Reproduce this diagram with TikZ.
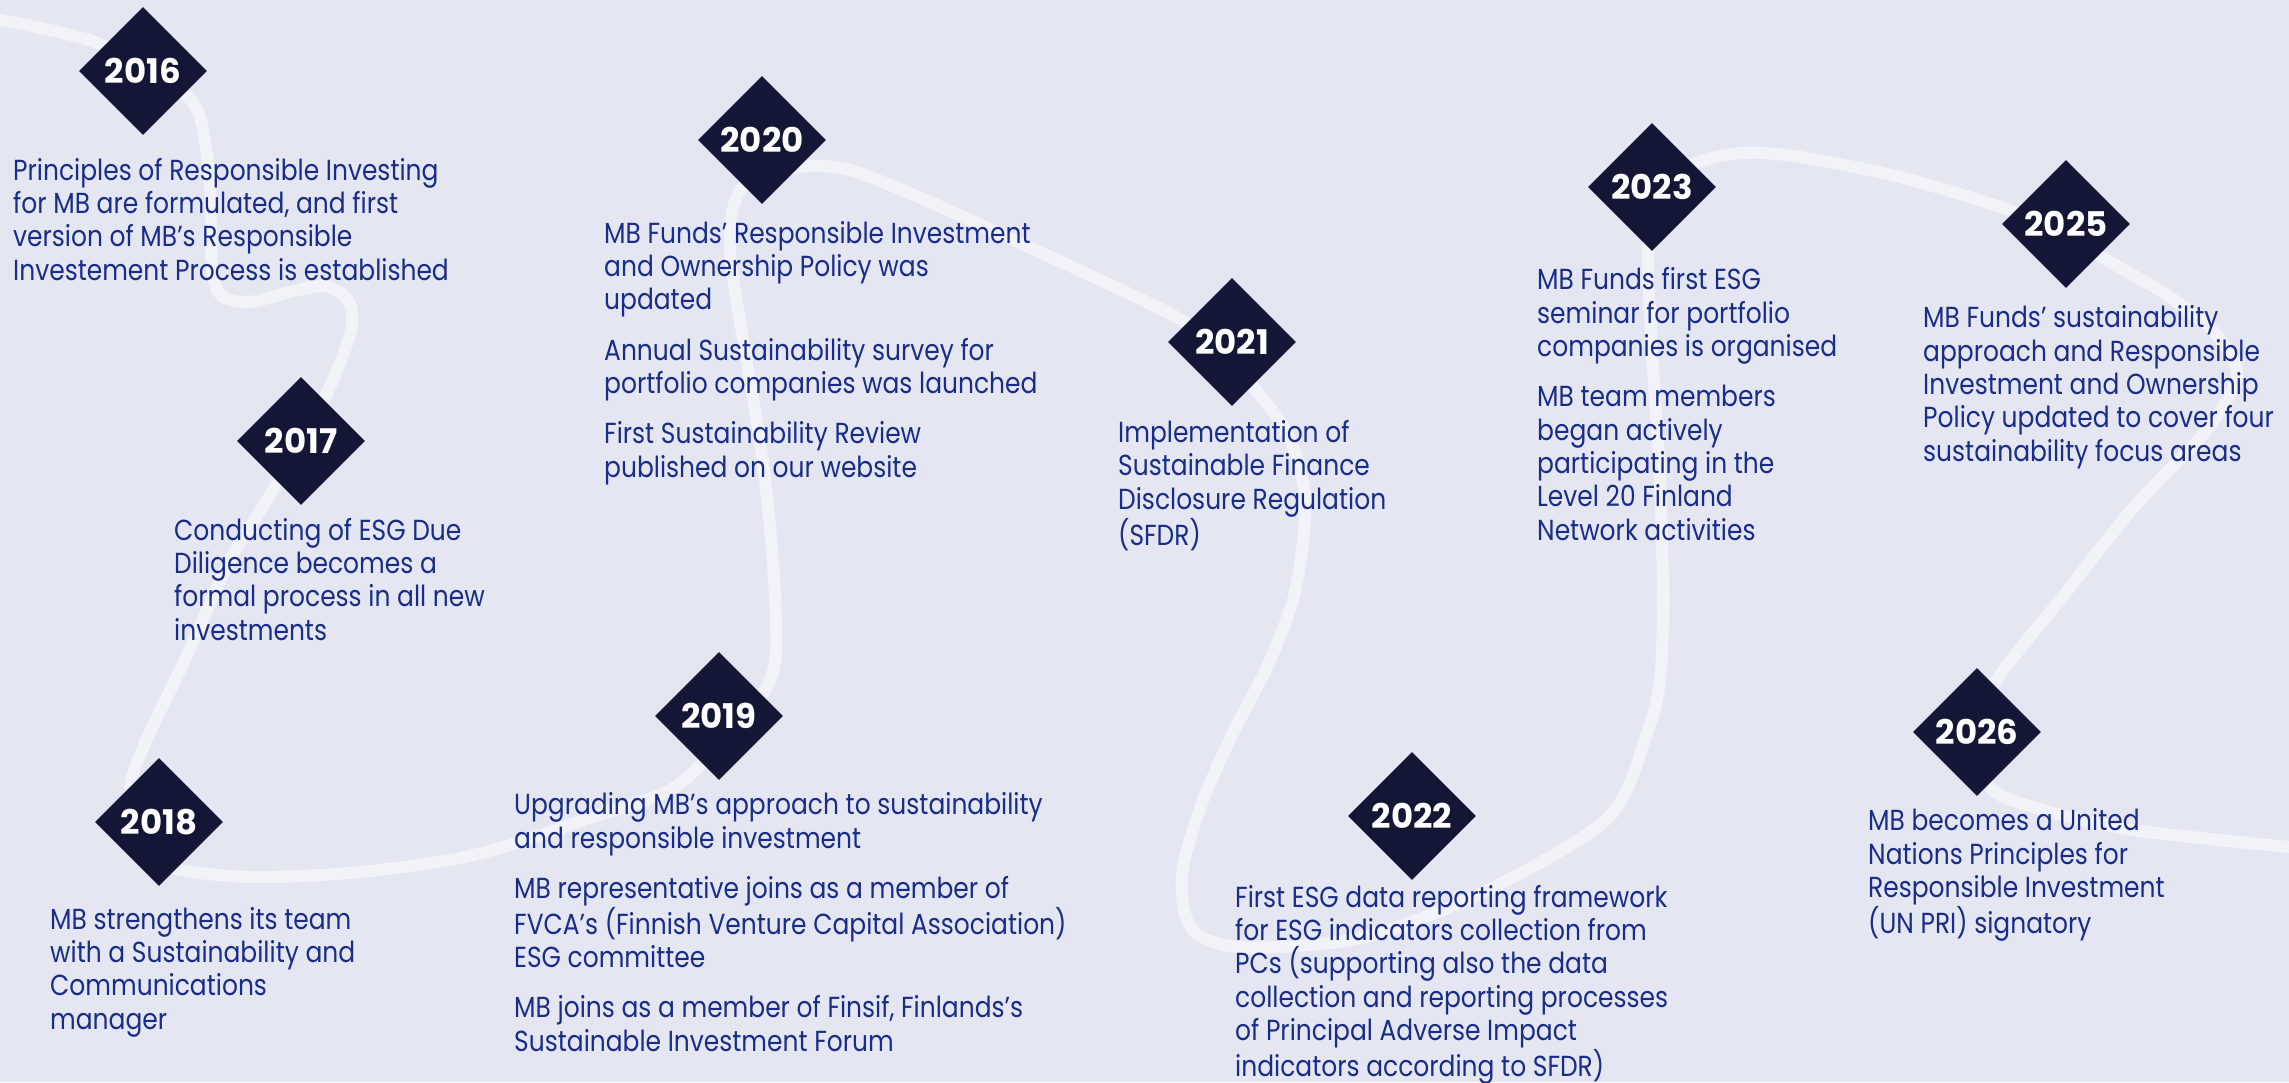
\documentclass[tikz,border=0pt]{standalone}
\usepackage{fontspec}
\setmainfont{Poppins}[FakeStretch=0.86]
\newfontfamily\yearfamily{Poppins}
\usetikzlibrary{shapes.geometric}

\definecolor{pagebg}{RGB}{228,231,242}
\definecolor{trail}{RGB}{242,243,249}
\definecolor{marker}{RGB}{19,22,52}
\definecolor{ink}{RGB}{24,44,136}

\tikzset{
  year/.style={shape=diamond, fill=marker, text=white, inner sep=0pt,
    minimum width=128pt, minimum height=128pt,
    font=\yearfamily\fontsize{34}{34}\selectfont\bfseries},
  % multi-line entries are anchored at the baseline of their last line
  entry/.style={anchor=base west, align=left, text=ink, inner sep=0pt,
    font=\fontsize{29}{33.3}\selectfont},
  path line/.style={draw=trail, line width=12pt, line cap=round, line join=round},
}

\begin{document}
\begin{tikzpicture}[x=1pt, y=-1pt]
  % page
  \fill[pagebg] (0,0) rectangle (2289,1082);
  \useasboundingbox (0,0) rectangle (2289,1082);

  % the winding trail behind the milestones
  \draw[path line] plot[smooth, tension=0.5] coordinates {
    (-10,18) (50,30) (100,44) (143,71) (183,93) (200,117) (210,183)
    (212,268) (222,296) (250,302) (290,292) (325,286) (348,300) (352,325)
    (343,355) (327,393) (301,441) (267,500) (230,560) (184,662) (145,743)
    (130,790) (140,845) (172,868) (250,877) (350,873) (450,860) (517,843)
    (583,820) (670,790) (722,742) (765,690) (776,650) (773,563) (763,463)
    (747,363) (731,263) (732,213) (743,187) (765,175) (810,166) (853,171)
    (921,198) (998,233) (1100,280) (1176,317) (1222,350) (1256,390)
    (1287,433) (1303,483) (1304,533) (1293,600) (1267,667) (1233,733)
    (1203,800) (1183,867) (1184,910) (1198,935) (1238,947) (1310,945)
    (1380,933) (1494,887) (1609,817) (1647,733) (1660,680) (1663,600)
    (1660,480) (1652,350) (1648,253) (1657,198) (1694,164) (1743,153)
    (1800,157) (1900,177) (2000,207) (2060,232) (2110,262) (2167,295)
    (2215,333) (2237,375) (2205,432) (2133,508) (2060,600) (1998,678)
    (1977,735) (1990,787) (2033,807) (2133,830) (2300,848)};

  % milestones
  \node[year] (y2016) at (143,71)   {2016};
  \node[year] (y2017) at (301,441)  {2017};
  \node[year] (y2018) at (159,822)  {2018};
  \node[year] (y2019) at (719,716)  {2019};
  \node[year] (y2020) at (762,140)  {2020};
  \node[year] (y2021) at (1232,342) {2021};
  \node[year] (y2022) at (1412,816) {2022};
  \node[year] (y2023) at (1652,187) {2023};
  \node[year] (y2025) at (2066,224) {2025};
  \node[year] (y2026) at (1977,732) {2026};

  % descriptions
  \node[entry] (t2016) at (13,280) {Principles of Responsible Investing\\
    for MB are formulated, and first\\
    version of MB’s Responsible\\
    Investement Process is established};

  \node[entry] (t2017) at (174,640) {Conducting of ESG Due\\
    Diligence becomes a\\
    formal process in all new\\
    investments};

  \node[entry] (t2018) at (50,1029) {MB strengthens its team\\
    with a Sustainability and\\
    Communications\\
    manager};

  \node[entry] (t2019) at (514,1051) {Upgrading MB’s approach to sustainability\\
    and responsible investment\\[17pt]
    MB representative joins as a member of\\
    FVCA’s (Finnish Venture Capital Association)\\
    ESG committee\\[17pt]
    MB joins as a member of Finsif, Finlands’s\\
    Sustainable Investment Forum};

  \node[entry] (t2020) at (604,477) {MB Funds’ Responsible Investment\\
    and Ownership Policy was\\
    updated\\[17pt]
    Annual Sustainability survey for\\
    portfolio companies was launched\\[17pt]
    First Sustainability Review\\
    published on our website};

  \node[entry] (t2021) at (1118,545) {Implementation of\\
    Sustainable Finance\\
    Disclosure Regulation\\
    (SFDR)};

  \node[entry] (t2022) at (1235,1076) {First ESG data reporting framework\\
    for ESG indicators collection from\\
    PCs (supporting also the data\\
    collection and reporting processes\\
    of Principal Adverse Impact\\
    indicators according to SFDR)};

  \node[entry] (t2023) at (1537,540) {MB Funds first ESG\\
    seminar for portfolio\\
    companies is organised\\[17pt]
    MB team members\\
    began actively\\
    participating in the\\
    Level 20 Finland\\
    Network activities};

  \node[entry] (t2025) at (1923,461) {MB Funds’ sustainability\\
    approach and Responsible\\
    Investment and Ownership\\
    Policy updated to cover four\\
    sustainability focus areas};

  \node[entry] (t2026) at (1868,933) {MB becomes a United\\
    Nations Principles for\\
    Responsible Investment\\
    (UN PRI) signatory};
\end{tikzpicture}
\end{document}
